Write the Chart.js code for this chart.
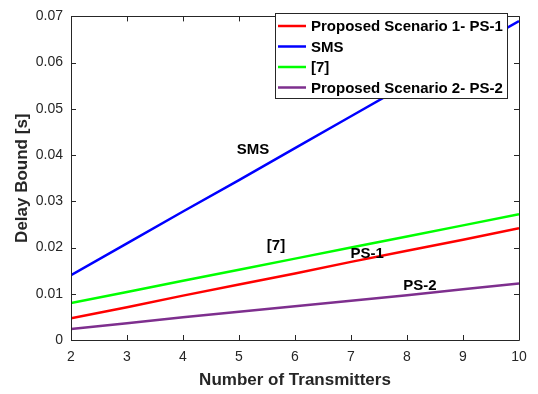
<!DOCTYPE html>
<html>
<head>
<meta charset="utf-8">
<script src="https://cdn.jsdelivr.net/npm/chart.js@4/dist/chart.umd.min.js"></script>
<style>
  html, body { margin: 0; padding: 0; background: #fff; }
  #wrap { width: 538px; height: 394px; }
</style>
</head>
<body>
<div id="wrap"><canvas id="c" width="538" height="394"></canvas></div>
<script>
// Delay bound versus number of transmitters
const transmitters = [2, 3, 4, 5, 6, 7, 8, 9, 10];
const ps1Delay = [0.0047, 0.0071, 0.0096, 0.0120, 0.0144, 0.0169, 0.0193, 0.0217, 0.0242];
const smsDelay = [0.0140, 0.0209, 0.0278, 0.0346, 0.0415, 0.0484, 0.0553, 0.0621, 0.0690];
const ref7Delay = [0.0080, 0.0104, 0.0128, 0.0152, 0.0176, 0.0200, 0.0224, 0.0248, 0.0272];
const ps2Delay = [0.0024, 0.0036, 0.0049, 0.0061, 0.0073, 0.0085, 0.0097, 0.0110, 0.0122];

const seriesNames = ['Proposed Scenario 1- PS-1', 'SMS', '[7]', 'Proposed Scenario 2- PS-2'];
const seriesColors = ['#ff0000', '#0000ff', '#00ff00', '#7e2f8e'];

// In-plot text labels: text, x, y in data units
const noteTexts = ['SMS', '[7]', 'PS-1', 'PS-2'];
const noteX = [5.25, 5.66, 7.29, 8.23];
const noteY = [0.0411, 0.0203, 0.01865, 0.01174];

const yTicks = [0, 0.01, 0.02, 0.03, 0.04, 0.05, 0.06, 0.07];

const FONT = '"Liberation Sans", Arial, Helvetica, sans-serif';
const AXIS_COLOR = '#262626';

const toPoints = arr => arr.map((v, i) => ({ x: transmitters[i], y: v }));
const allSeries = [ps1Delay, smsDelay, ref7Delay, ps2Delay];

// Box around the axes with inward tick marks on all four sides
const boxPlugin = {
  id: 'axesBox',
  afterDatasetsDraw(chart) {
    const { ctx, chartArea: a, scales } = chart;
    ctx.save();
    ctx.strokeStyle = AXIS_COLOR;
    ctx.lineWidth = 1;
    ctx.beginPath();
    ctx.rect(Math.round(a.left) + 0.5, Math.round(a.top) + 0.5,
             Math.round(a.right - a.left), Math.round(a.bottom - a.top));
    ctx.stroke();
    const tl = 5;
    ctx.beginPath();
    scales.x.ticks.forEach(t => {
      const px = Math.round(scales.x.getPixelForValue(t.value)) + 0.5;
      ctx.moveTo(px, a.bottom); ctx.lineTo(px, a.bottom - tl);
      ctx.moveTo(px, a.top); ctx.lineTo(px, a.top + tl);
    });
    scales.y.ticks.forEach(t => {
      const py = Math.round(scales.y.getPixelForValue(t.value)) + 0.5;
      ctx.moveTo(a.left, py); ctx.lineTo(a.left + tl, py);
      ctx.moveTo(a.right, py); ctx.lineTo(a.right - tl, py);
    });
    ctx.stroke();
    ctx.restore();
  }
};

// Text labels placed beside the curves
const notePlugin = {
  id: 'curveNotes',
  afterDatasetsDraw(chart) {
    const { ctx, scales } = chart;
    ctx.save();
    ctx.fillStyle = '#000';
    ctx.font = 'bold 15px ' + FONT;
    ctx.textAlign = 'center';
    ctx.textBaseline = 'middle';
    noteTexts.forEach((t, i) => {
      ctx.fillText(t, scales.x.getPixelForValue(noteX[i]), scales.y.getPixelForValue(noteY[i]));
    });
    ctx.restore();
  }
};

// Boxed legend in the upper right corner of the plot
const legendPlugin = {
  id: 'boxedLegend',
  afterDraw(chart) {
    const { ctx } = chart;
    const x0 = 275, y0 = 13, w = 232, h = 85;
    ctx.save();
    ctx.fillStyle = '#fff';
    ctx.fillRect(x0, y0, w, h);
    ctx.strokeStyle = AXIS_COLOR;
    ctx.lineWidth = 1;
    ctx.strokeRect(x0 + 0.5, y0 + 0.5, w, h);
    ctx.font = 'bold 15px ' + FONT;
    ctx.textAlign = 'left';
    ctx.textBaseline = 'middle';
    chart.data.datasets.forEach((ds, i) => {
      const cy = 26 + i * 20.5;
      ctx.strokeStyle = ds.borderColor;
      ctx.lineWidth = 2.5;
      ctx.beginPath();
      ctx.moveTo(278, cy); ctx.lineTo(306, cy);
      ctx.stroke();
      ctx.fillStyle = '#000';
      ctx.fillText(ds.label, 311, cy + 1);
    });
    ctx.restore();
  }
};

new Chart(document.getElementById('c'), {
  type: 'line',
  data: {
    datasets: allSeries.map((arr, i) => ({
      label: seriesNames[i],
      data: toPoints(arr),
      borderColor: seriesColors[i],
      backgroundColor: seriesColors[i],
      borderWidth: 2.5,
      pointRadius: 0,
      tension: 0,
      fill: false
    }))
  },
  options: {
    responsive: false,
    animation: false,
    layout: { padding: { top: 6, right: 19, left: 0, bottom: 0 } },
    plugins: { legend: { display: false }, tooltip: { enabled: false } },
    scales: {
      x: {
        type: 'linear',
        min: 2, max: 10,
        afterFit(s) { s.height = 54; },
        grid: { display: false, drawTicks: false },
        border: { display: false },
        ticks: {
          stepSize: 1,
          padding: 9,
          color: AXIS_COLOR,
          font: { family: FONT, size: 14 },
          maxRotation: 0
        },
        title: {
          display: true,
          text: 'Number of Transmitters',
          color: AXIS_COLOR,
          font: { family: FONT, size: 17, weight: 'bold' },
          padding: { top: 4, bottom: 3 }
        }
      },
      y: {
        type: 'linear',
        min: 0, max: 0.07,
        afterFit(s) { s.width = 71; },
        afterBuildTicks(s) { s.ticks = yTicks.map(v => ({ value: v })); },
        grid: { display: false, drawTicks: false },
        border: { display: false },
        ticks: {
          padding: 8,
          color: AXIS_COLOR,
          font: { family: FONT, size: 14 },
          callback: v => (v === 0 ? '0' : v.toFixed(2))
        },
        title: {
          display: true,
          text: 'Delay Bound [s]',
          color: AXIS_COLOR,
          font: { family: FONT, size: 17, weight: 'bold' },
          padding: { top: 12, bottom: 0 }
        }
      }
    }
  },
  plugins: [boxPlugin, notePlugin, legendPlugin]
});
</script>
</body>
</html>
